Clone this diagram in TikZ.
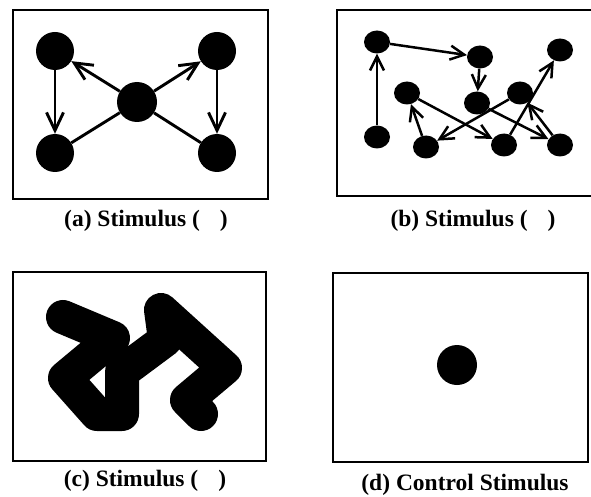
\documentclass[tikz,border=0pt]{standalone}
\usepackage{fontspec}
\setmainfont{Liberation Serif}
\usetikzlibrary{arrows.meta,shapes.geometric}
\begin{document}
\begin{tikzpicture}[x=1pt,y=-1pt,
  panel/.style={draw=black, line width=2pt},
  dotA/.style={circle, fill=black, inner sep=0pt, minimum size=38pt},
  dotB/.style={ellipse, fill=black, inner sep=0pt, minimum width=26pt, minimum height=23pt},
  arrA/.style={line width=2.9pt, -{Straight Barb[length=18pt,width=17pt]}},
  lineA/.style={line width=2.9pt},
  arrB/.style={line width=2.5pt, -{Straight Barb[length=14pt,width=14pt]}},
  blob/.style={line width=34pt, line cap=round, line join=round},
  captext/.style={font=\bfseries\fontsize{23.5}{27}\selectfont, inner sep=0pt}
]
\useasboundingbox (0,0) rectangle (591,497);
% panel frames
\draw[panel] (13,10) rectangle (268,199);
\draw[panel] (337,10) rectangle (594,196);
\draw[panel] (13,272) rectangle (266,461);
\draw[panel] (333,273) rectangle (588,462);

% panel (a)
\node[dotA] (a1) at (55,51) {};
\node[dotA] (a2) at (217,51) {};
\node[dotA, minimum size=40pt] (a0) at (137,102) {};
\node[dotA] (a3) at (55,153) {};
\node[dotA] (a4) at (217,153) {};
\draw[arrA] (a0) -- (a1);
\draw[arrA] (a0) -- (a2);
\draw[arrA] (a1) -- (a3);
\draw[arrA] (a2) -- (a4);
\draw[lineA] (a0) -- (a3);
\draw[lineA] (a0) -- (a4);

% panel (b)
\node[dotB] (bA) at (377,42) {};
\node[dotB] (bB) at (480,57) {};
\node[dotB] (bC) at (560,50) {};
\node[dotB] (bD) at (407,93) {};
\node[dotB] (bE) at (477,103) {};
\node[dotB] (bF) at (520,93) {};
\node[dotB] (bG) at (377,137) {};
\node[dotB] (bH) at (426,147) {};
\node[dotB] (bI) at (504,145) {};
\node[dotB] (bJ) at (560,145) {};
\draw[arrB] (bG) -- (bA);
\draw[arrB] (bA) -- (bB);
\draw[arrB] (bB) -- (bE);
\draw[arrB] (bH) -- (bD);
\draw[arrB] (bD) -- (bI);
\draw[arrB] (bF) -- (bH);
\draw[arrB] (bE) -- (bJ);
\draw[arrB] (bI) -- (bC);
\draw[arrB] (bJ) -- (bF);

% panel (c)
\draw[blob] (63,317) -- (113,338) -- (65,378) -- (97,414) -- (122,414)
  -- (122,372) -- (165,340) -- (161,310) -- (225,368) -- (187,400) -- (201,414);

% panel (d)
\node[dotA, minimum size=40pt] (d0) at (457,365) {};

% captions
\node[captext] (capa) at (146,221) {(a) Stimulus (\hspace{20pt})};
\node[captext] (capb) at (473,221) {(b) Stimulus (\hspace{20pt})};
\node[captext] (capc) at (145,481) {(c) Stimulus (\hspace{20pt})};
\node[captext] (capd) at (465,485) {(d) Control Stimulus};
\end{tikzpicture}
\end{document}
